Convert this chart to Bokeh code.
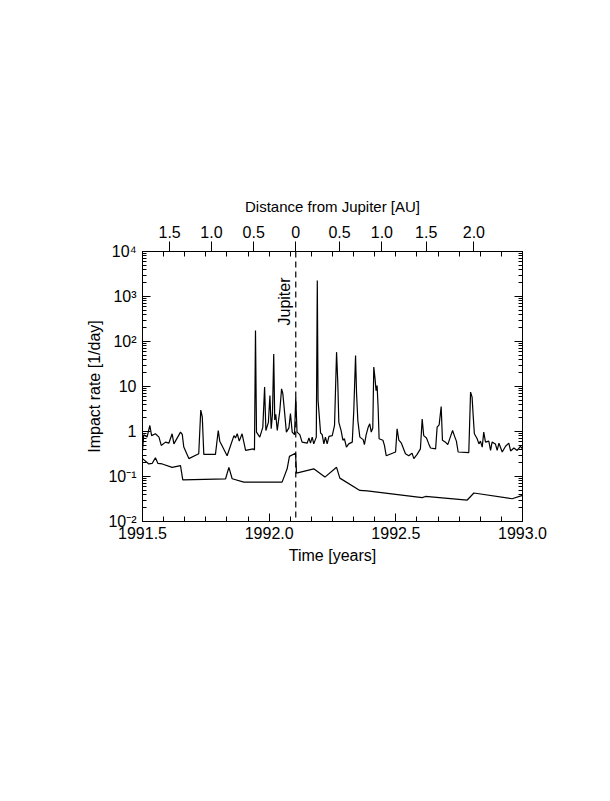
import math
from bokeh.plotting import figure
from bokeh.models import (LinearAxis, LogAxis, FixedTicker, CustomJSTickFormatter, Span)
from bokeh.core.properties import value
from bokeh.embed import file_html
from bokeh.resources import INLINE

# ---------------- data ----------------
upper_t = [1991.500, 1991.505, 1991.518, 1991.529, 1991.536, 1991.551, 1991.565, 1991.574,
           1991.591, 1991.604, 1991.617, 1991.624, 1991.650, 1991.657, 1991.663, 1991.683,
           1991.722, 1991.730, 1991.736, 1991.742, 1991.788, 1991.799, 1991.805, 1991.834,
           1991.861, 1991.867, 1991.874, 1991.882, 1991.893, 1991.907, 1991.937, 1991.942,
           1991.946, 1991.950, 1991.963, 1991.975, 1991.982, 1991.987, 1991.997, 1992.003,
           1992.008, 1992.013, 1992.018, 1992.022, 1992.026, 1992.032, 1992.042, 1992.049,
           1992.054, 1992.060, 1992.068, 1992.078, 1992.084, 1992.091, 1992.100, 1992.105,
           1992.110, 1992.121, 1992.130, 1992.150, 1992.157, 1992.163, 1992.170, 1992.176,
           1992.186, 1992.190, 1992.193, 1992.203, 1992.209, 1992.216, 1992.222, 1992.229,
           1992.236, 1992.249, 1992.258, 1992.266, 1992.271, 1992.275, 1992.284, 1992.291,
           1992.297, 1992.305, 1992.314, 1992.328, 1992.334, 1992.341, 1992.345, 1992.350,
           1992.358, 1992.371, 1992.376, 1992.383, 1992.391, 1992.397, 1992.403, 1992.409,
           1992.413, 1992.418, 1992.422, 1992.426, 1992.430, 1992.434, 1992.449, 1992.455,
           1992.462, 1992.499, 1992.505, 1992.512, 1992.522, 1992.538, 1992.551, 1992.564,
           1992.571, 1992.584, 1992.597, 1992.604, 1992.610, 1992.621, 1992.630, 1992.637,
           1992.657, 1992.663, 1992.671, 1992.679, 1992.684, 1992.696, 1992.705, 1992.716,
           1992.724, 1992.732, 1992.739, 1992.746, 1992.788, 1992.795, 1992.801, 1992.805,
           1992.810, 1992.821, 1992.828, 1992.834, 1992.841, 1992.847, 1992.854, 1992.867,
           1992.874, 1992.880, 1992.893, 1992.900, 1992.907, 1992.920, 1992.933, 1992.946,
           1992.953, 1992.966, 1992.979, 1992.992, 1993.000]
upper_rate = [0.38, 0.85, 0.75, 1.36, 0.81, 0.89, 0.75, 0.49,
              0.58, 0.55, 0.89, 0.53, 0.97, 0.86, 0.45, 0.25,
              0.32, 3.0, 2.1, 0.31, 0.31, 1.05, 0.61, 0.29,
              0.81, 0.72, 0.89, 0.61, 0.89, 0.38, 0.41, 0.39,
              175, 0.97, 0.75, 1.25, 9.7, 1.05, 1.6, 6.3,
              1.15, 2.4, 53, 1.8, 2.4, 1.05, 2.9, 8.9,
              6.9, 3.0, 0.97, 1.2, 2.5, 0.97, 0.85, 5.8,
              0.97, 0.85, 0.58, 0.55, 0.72, 0.55, 0.75, 0.53,
              0.75, 2270, 4.9, 0.92, 0.86, 0.53, 0.75, 0.53,
              0.78, 0.81, 1.36, 58, 11.5, 1.6, 1.05, 0.64,
              0.69, 0.45, 0.53, 0.58, 2.9, 49, 6.9, 1.75,
              0.75, 0.66, 0.51, 0.85, 1.25, 1.48, 0.97, 1.2,
              27, 14.8, 8.1, 10.5, 3.5, 0.69, 0.64, 0.49,
              0.29, 0.35, 1.15, 0.64, 0.55, 0.32, 0.29, 0.33,
              0.25, 0.31, 0.41, 1.9, 0.81, 0.72, 0.53, 0.43,
              0.41, 1.25, 1.41, 3.6, 0.64, 0.58, 0.51, 0.78,
              1.05, 0.78, 0.61, 0.35, 0.34, 7.5, 5.8, 2.4,
              0.89, 0.69, 0.53, 0.61, 0.45, 0.97, 0.58, 0.61,
              0.38, 0.58, 0.53, 0.38, 0.55, 0.35, 0.47, 0.55,
              0.37, 0.43, 0.38, 0.47, 0.41]

lower_t = [1991.500, 1991.525, 1991.538, 1991.551, 1991.561, 1991.578, 1991.617, 1991.650,
           1991.659, 1991.828, 1991.841, 1991.854, 1991.900, 1992.051, 1992.071, 1992.080,
           1992.104, 1992.108, 1992.176, 1992.220, 1992.266, 1992.279, 1992.358, 1992.387,
           1992.604, 1992.617, 1992.782, 1992.808, 1992.959, 1993.000]
lower_rate = [0.25, 0.19, 0.195, 0.26, 0.195, 0.19, 0.16, 0.175,
              0.084, 0.089, 0.16, 0.089, 0.075, 0.075, 0.148, 0.28,
              0.33, 0.119, 0.148, 0.097, 0.16, 0.092, 0.049, 0.048,
              0.034, 0.036, 0.030, 0.043, 0.032, 0.038]

jupiter_time = 1992.105

x_tick_values = [1991.5, 1992.0, 1992.5, 1993.0]
x_tick_labels = ["1991.5", "1992.0", "1992.5", "1993.0"]

y_tick_values = [1e-2, 1e-1, 1e0, 1e1, 1e2, 1e3, 1e4]
y_tick_labels = ["10\u207b\u00b2", "10\u207b\u00b9", "1", "10", "10\u00b2", "10\u00b3", "10\u2074"]

dist_tick_times = [1991.607, 1991.772, 1991.939, 1992.105, 1992.278, 1992.445, 1992.620, 1992.808]
dist_tick_labels = ["1.5", "1.0", "0.5", "0", "0.5", "1.0", "1.5", "2.0"]

# ---------------- styling ----------------
FONT = "Liberation Sans"
TICK_FS = "16px"
TITLE_FS = "16px"

month_ticks = [1991.5 + i / 12.0 for i in range(19)]
y_minor = [m * 10.0 ** e for e in range(-2, 4) for m in range(2, 10)]

p = figure(width=580, height=600, y_axis_type="log",
           x_range=(1991.5, 1993.0), y_range=(1e-2, 1e4),
           output_backend="svg", toolbar_location=None,
           min_border_left=142, min_border_top=251,
           min_border_right=58, min_border_bottom=79)
p.grid.visible = False
p.outline_line_color = "black"
p.outline_line_width = 1
p.background_fill_color = "white"
p.border_fill_color = "white"

label_fmt = CustomJSTickFormatter(args=dict(vals=x_tick_values, labels=x_tick_labels), code="""
    for (let i = 0; i < vals.length; i++) { if (Math.abs(vals[i] - tick) < 1e-6) return labels[i]; }
    return '';
""")

def style_axis(ax):
    ax.axis_line_color = "black"
    ax.major_tick_line_color = "black"
    ax.minor_tick_line_color = "black"
    ax.major_label_text_font = FONT
    ax.major_label_text_font_size = TICK_FS
    ax.major_label_text_color = "black"
    ax.axis_label_text_font = FONT
    ax.axis_label_text_font_size = TITLE_FS
    ax.axis_label_text_font_style = "normal"
    ax.axis_label_text_color = "black"

# bottom axis
xb = p.xaxis[0]
xb.ticker = FixedTicker(ticks=x_tick_values, minor_ticks=month_ticks)
xb.formatter = label_fmt
xb.major_tick_in = 8
xb.major_tick_out = 0
xb.minor_tick_in = 5
xb.minor_tick_out = 0
xb.major_label_standoff = 5
xb.axis_label = "Time [years]"
xb.axis_label_standoff = 5
style_axis(xb)

# left axis
yl = p.yaxis[0]
yl.ticker = FixedTicker(ticks=y_tick_values, minor_ticks=y_minor)
yl.formatter = CustomJSTickFormatter(args=dict(vals=y_tick_values, labels=y_tick_labels), code="""
    for (let i = 0; i < vals.length; i++) { if (Math.abs(Math.log10(vals[i]) - Math.log10(tick)) < 1e-6) return labels[i]; }
    return '';
""")
yl.major_tick_in = 8
yl.major_tick_out = 0
yl.minor_tick_in = 4
yl.minor_tick_out = 0
yl.major_label_standoff = 6
yl.axis_label = "Impact rate [1/day]"
yl.axis_label_standoff = 2
style_axis(yl)

# right axis (ticks only)
yr = LogAxis(ticker=FixedTicker(ticks=y_tick_values, minor_ticks=y_minor),
             formatter=CustomJSTickFormatter(code="return ''"))
yr.major_tick_in = 8
yr.major_tick_out = 0
yr.minor_tick_in = 4
yr.minor_tick_out = 0
style_axis(yr)
p.add_layout(yr, "right")

# top axis: distance from Jupiter
xt = LinearAxis(ticker=FixedTicker(ticks=dist_tick_times, minor_ticks=month_ticks),
                formatter=CustomJSTickFormatter(args=dict(vals=dist_tick_times, labels=dist_tick_labels), code="""
    for (let i = 0; i < vals.length; i++) { if (Math.abs(vals[i] - tick) < 1e-6) return labels[i]; }
    return '';
"""))
xt.major_tick_in = 0
xt.major_tick_out = 10
xt.minor_tick_in = 5
xt.minor_tick_out = 0
xt.major_label_standoff = 4
xt.axis_label = "Distance from Jupiter [AU]"
xt.axis_label_standoff = 8
style_axis(xt)
xt.axis_label_text_font_size = "15px"
p.add_layout(xt, "above")

# data lines
p.line(upper_t, upper_rate, line_color="black", line_width=1.2)
p.line(lower_t, lower_rate, line_color="black", line_width=1.2)

# Jupiter marker
p.add_layout(Span(location=jupiter_time, dimension="height", line_color="black",
                  line_width=1.2, line_dash="6 4"))
p.text(x=[jupiter_time], y=[227], text=["Jupiter"], angle=math.pi / 2,
       text_align="left", text_baseline="bottom", x_offset=-3,
       text_font=value(FONT), text_font_size="16px", text_color="black")

open("out.html", "w").write(file_html(p, INLINE))
